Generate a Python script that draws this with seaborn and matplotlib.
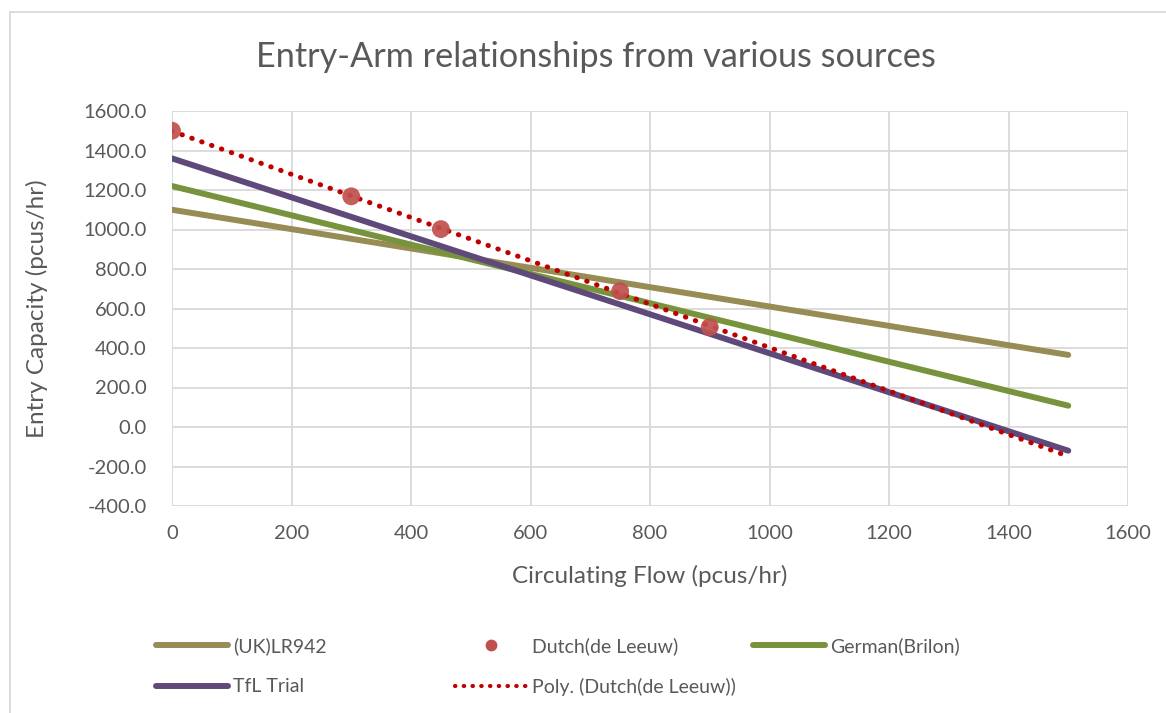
import numpy as np
import pandas as pd
import seaborn as sns
import matplotlib.pyplot as plt
from matplotlib.lines import Line2D

# Straight-line capacity relationships (end points at 0 and 1500 pcus/hr)
flow_ends = [0, 1500]
uk_lr942 = [1100, 365]
german_brilon = [1220, 108]
tfl_trial = [1360, -120]

# Dutch (de Leeuw) observed points
dutch_flow = [0, 300, 450, 750, 900]
dutch_capacity = [1500, 1168, 1002, 688, 506]

series_names = ["(UK)LR942", "German(Brilon)", "TfL Trial"]
series_values = [uk_lr942, german_brilon, tfl_trial]
series_colors = ["#968C54", "#77933C", "#5F497A"]
dutch_color = "#C0504D"
trend_color = "#C00000"
text_color = "#595959"
grid_color = "#D9D9D9"

lines_df = pd.DataFrame({
    "flow": flow_ends * len(series_names),
    "capacity": [v for vals in series_values for v in vals],
    "source": [n for n in series_names for _ in flow_ends],
})
dutch_df = pd.DataFrame({"flow": dutch_flow, "capacity": dutch_capacity})

# Second-order polynomial trendline through the Dutch points
coef = np.polyfit(dutch_flow, dutch_capacity, 2)
trend_x = np.linspace(0, 1500, 301)
trend_df = pd.DataFrame({"flow": trend_x, "capacity": np.polyval(coef, trend_x)})

sns.set_theme(style="white")
plt.rcParams["font.family"] = ["Lato", "DejaVu Sans"]

fig = plt.figure(figsize=(11.66, 7.13), dpi=100)
ax = fig.add_axes([172 / 1166, 1 - 506 / 713, (1128 - 172) / 1166, (506 - 111) / 713])

sns.lineplot(data=lines_df, x="flow", y="capacity", hue="source",
             hue_order=series_names, palette=series_colors, linewidth=4.3,
             solid_capstyle="round", legend=False, ax=ax, zorder=3)
sns.lineplot(data=trend_df, x="flow", y="capacity", color=trend_color,
             linewidth=3.6, linestyle=(0, (0.1, 2.0)), dash_capstyle="round",
             legend=False, ax=ax, zorder=4)
sns.scatterplot(data=dutch_df, x="flow", y="capacity", color=dutch_color,
                s=165, edgecolor="none", alpha=0.92, legend=False, ax=ax, zorder=5)

ax.set_xlim(0, 1600)
ax.set_ylim(-400, 1600)
ax.set_xticks(np.arange(0, 1601, 200))
ax.set_yticks(np.arange(-400, 1601, 200))
ax.set_yticklabels([f"{v:.1f}" for v in np.arange(-400, 1601, 200)])
ax.grid(True, color=grid_color, linewidth=1.3)
ax.set_axisbelow(True)
for side in ax.spines.values():
    side.set_visible(False)
ax.tick_params(axis="both", length=0, labelsize=14.5, colors=text_color)
ax.tick_params(axis="x", pad=14)
ax.tick_params(axis="y", pad=18)
ax.set_xlabel("Circulating Flow (pcus/hr)", fontsize=17.5, color=text_color, labelpad=16)
ax.set_ylabel("Entry Capacity (pcus/hr)", fontsize=17.5, color=text_color, labelpad=26)

fig.text(596 / 1166, 1 - 57 / 713, "Entry-Arm relationships from various sources",
         ha="center", va="center", fontsize=24.7, color=text_color)

# Legend entries laid out on a fixed grid beneath the plot
entries = [
    (Line2D([], [], color=series_colors[0], linewidth=4.3, solid_capstyle="round"),
     "(UK)LR942", 156, 646),
    (Line2D([], [], color=dutch_color, marker="o", markersize=8.5, linestyle="none",
            markeredgewidth=0), "Dutch(de Leeuw)", 455, 646),
    (Line2D([], [], color=series_colors[1], linewidth=4.3, solid_capstyle="round"),
     "German(Brilon)", 753, 646),
    (Line2D([], [], color=series_colors[2], linewidth=4.3, solid_capstyle="round"),
     "TfL Trial", 156, 687),
    (Line2D([], [], color=trend_color, linewidth=3.0, linestyle=(0, (0.1, 2.0)),
            dash_capstyle="round"), "Poly. (Dutch(de Leeuw))", 455, 687),
]
for handle, label, px, py in entries:
    fig.legend([handle], [label], loc="center left",
               bbox_to_anchor=(px / 1166, 1 - py / 713),
               frameon=False, fontsize=14, handlelength=3.7,
               handletextpad=0.25, borderpad=0, borderaxespad=0,
               labelcolor=text_color)

# Chart-area border
fig.add_artist(Line2D([10 / 1166, 10 / 1166], [0, 1 - 12 / 713],
                      transform=fig.transFigure, color="#D9D9D9", linewidth=1.3))
fig.add_artist(Line2D([10 / 1166, 1], [1 - 12 / 713, 1 - 12 / 713],
                      transform=fig.transFigure, color="#D9D9D9", linewidth=1.3))

fig.savefig("out.png", dpi=100)
